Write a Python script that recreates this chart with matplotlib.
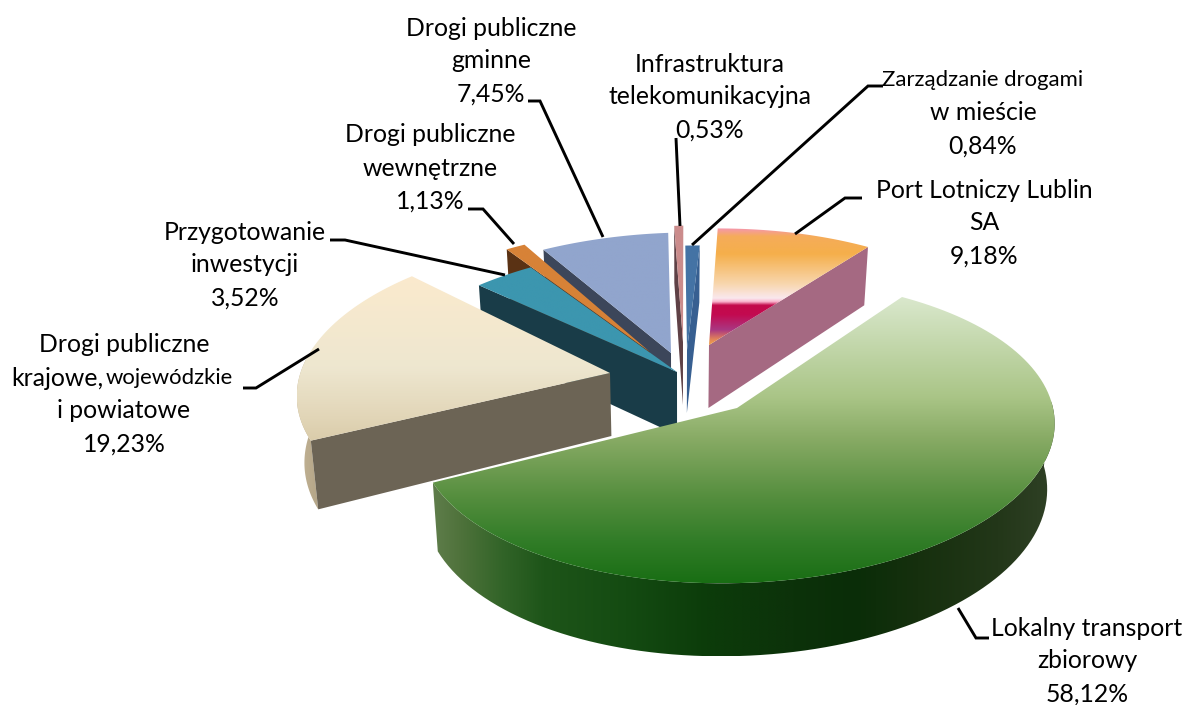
import numpy as np
import matplotlib
matplotlib.use("Agg")
import matplotlib.pyplot as plt
from matplotlib.patches import Polygon

# ---- data ----
names = ["Lokalny transport\nzbiorowy",
         "Drogi publiczne\nkrajowe, wojewódzkie\ni powiatowe",
         "Przygotowanie\ninwestycji",
         "Drogi publiczne\nwewnętrzne",
         "Drogi publiczne\ngminne",
         "Infrastruktura\ntelekomunikacyjna",
         "Zarządzanie drogami\nw mieście",
         "Port Lotniczy Lublin\nSA"]
values = [58.12, 19.23, 3.52, 1.13, 7.45, 0.53, 0.84, 9.18]

# ---- style / layout ----
start_angle = 33.0
apex_at = [(737,408),(610,373),(677,372),(650,352),(671,353),(683,342),(687,350),(709,345)]
rim_at = [(739,408),(617,366),(684,375),(660,357),(679,362),(685,355),(687,375),(705,358)]
F, G, K, SKEW = 314.0, 149.0, 0.15, 0.10
D0, D1 = 65.0, 8.0
VANISH_X, CONVERGE = 680.0, 0.02
wall_side = [None, "a", "a", "a", "a", "a", "b", "b"]
wall_color = [None, (108,100,85), (25,60,72), (90,50,20), (60,70,90), (95,65,70), (55,95,145), (165,105,130)]
top_stops = [
    [(0,(218,232,205)),(.35,(170,197,135)),(.5,(135,170,100)),(.7,(85,142,62)),(.85,(50,125,40)),(1,(25,110,20))],
    [(0,(251,234,205)),(.55,(238,231,208)),(.85,(226,214,184)),(1,(218,204,170))],
    [(0,(60,150,175)),(1,(60,150,175))],
    [(0,(215,130,55)),(1,(215,130,55))],
    [(0,(145,165,205)),(1,(145,165,205))],
    [(0,(203,140,140)),(1,(203,140,140))],
    [(0,(68,115,165)),(1,(68,115,165))],
    [(0,(245,150,175)),(.07,(245,172,90)),(.22,(245,175,75)),(.48,(248,215,175)),(.6,(250,232,238)),
     (.63,(250,180,205)),(.66,(195,10,75)),(.74,(195,10,80)),(.87,(170,55,130)),(.95,(225,130,90)),(1,(240,165,70))],
]
outer_stops = {
    0: [(0,(95,125,75)),(.04,(80,115,60)),(.11,(50,100,40)),(.177,(30,85,25)),(.31,(20,75,18)),(.44,(12,60,10)),
        (.58,(12,50,10)),(.68,(10,45,8)),(.78,(22,48,14)),(.91,(35,55,25)),(1,(48,65,38))],
    1: [(0,(195,180,150)),(1,(180,165,135))],
}
draw_order = [7, 6, 5, 4, 3, 2, 1, 0]

label_pos = [(1087,628),(124,345),(245,232),(430,135),(491,28),(710,64),(983,80),(984,190)]
LINE = 33.0
leaders = [
    [(989,638),(976,638),(958,608)],
    [(243,388),(256,388),(319,349)],
    [(330,240),(345,240),(505,275)],
    [(468,209),(483,209),(514,244)],
    [(528,101),(540,101),(603,237)],
    [(676,138),(680,226)],
    [(883,86),(868,86),(692,245)],
    [(862,198),(845,198),(795,234)],
]
FONT = "Lato"
FS = 17.8
FS_NARROW = {"Zarządzanie drogami": 15.9}

fig = plt.figure(figsize=(11.84, 7.05), dpi=100)
ax = fig.add_axes([0, 0, 1, 1])
ax.set_axis_off()


def proj(u, v):
    y = -G*v/(1+K*v)
    return F*u/(1+K*v) - SKEW*y, y


def rgb(c):
    return tuple(x/255 for x in c)


def lower(points, depth):
    points = np.atleast_2d(points).astype(float)
    out = points.copy()
    out[:, 0] += CONVERGE*(VANISH_X - out[:, 0])
    out[:, 1] += depth
    return out


def grad_fill(verts, stops, vertical, z):
    verts = np.asarray(verts)
    x0, y0 = verts.min(axis=0)
    x1, y1 = verts.max(axis=0)
    t = np.linspace(0, 1, 400)
    pos = [s[0] for s in stops]
    arr = np.stack([np.interp(t, pos, [s[1][i]/255 for s in stops]) for i in range(3)], axis=-1)
    arr = arr[:, None, :] if vertical else arr[None, :, :]
    im = ax.imshow(arr, extent=(x0, x1, y1, y0), origin="upper", aspect="auto", zorder=z, interpolation="bilinear")
    patch = Polygon(verts, closed=True, fc="none", ec="none", transform=ax.transData, zorder=z)
    ax.add_patch(patch)
    im.set_clip_path(patch)


edges = start_angle + np.concatenate([[0], np.cumsum(values)]) * 3.6
for order, i in enumerate(draw_order):
    a, b = edges[i], edges[i+1]
    apex = np.array(apex_at[i], dtype=float)
    th = np.radians(np.linspace(a, b, 120))
    rx, ry = proj(np.sin(th), np.cos(th))
    rim = np.column_stack([rim_at[i][0]+rx, rim_at[i][1]+ry])
    dep = D0 - D1*np.cos(th)
    dep_apex = D0 - 2.0
    z = 2 + order*3
    if i in outer_stops:
        mask = np.cos(th) < 0.05
        up = rim[mask]
        low = lower(up, dep[mask])
        grad_fill(np.vstack([up, low[::-1]]), outer_stops[i], False, z)
    side = wall_side[i]
    if side:
        k = 0 if side == "a" else -1
        w = np.vstack([apex, rim[k], lower(rim[k], dep[k]), lower(apex, dep_apex)])
        ax.add_patch(Polygon(w, closed=True, fc=rgb(wall_color[i]), ec="none", zorder=z+1))
    grad_fill(np.vstack([apex, rim]), top_stops[i], True, z+2)

for i, pts in enumerate(leaders):
    xs, ys = zip(*pts)
    ax.plot(xs, ys, color="black", lw=2.1, zorder=60, solid_joinstyle="miter", solid_capstyle="butt")

for i, name in enumerate(names):
    lines = name.split("\n") + [f"{values[i]:.2f}".replace(".", ",") + "%"]
    x, y = label_pos[i]
    for j, line in enumerate(lines):
        yy = y + j*LINE
        if ", " in line and not line.endswith("%"):
            first, second = line.split(", ")
            ax.text(x-21, yy, first + ",", ha="right", va="center", family=FONT, fontsize=FS, color="black", zorder=70)
            ax.text(x-18, yy, second, ha="left", va="center", family=FONT, fontsize=15.9, color="black", zorder=70)
        else:
            ax.text(x, yy, line, ha="center", va="center", family=FONT, fontsize=FS_NARROW.get(line, FS), color="black", zorder=70)

ax.set_xlim(0, 1184)
ax.set_ylim(705, 0)
ax.set_autoscale_on(False)
fig.savefig("out.png", dpi=100, facecolor="white")
